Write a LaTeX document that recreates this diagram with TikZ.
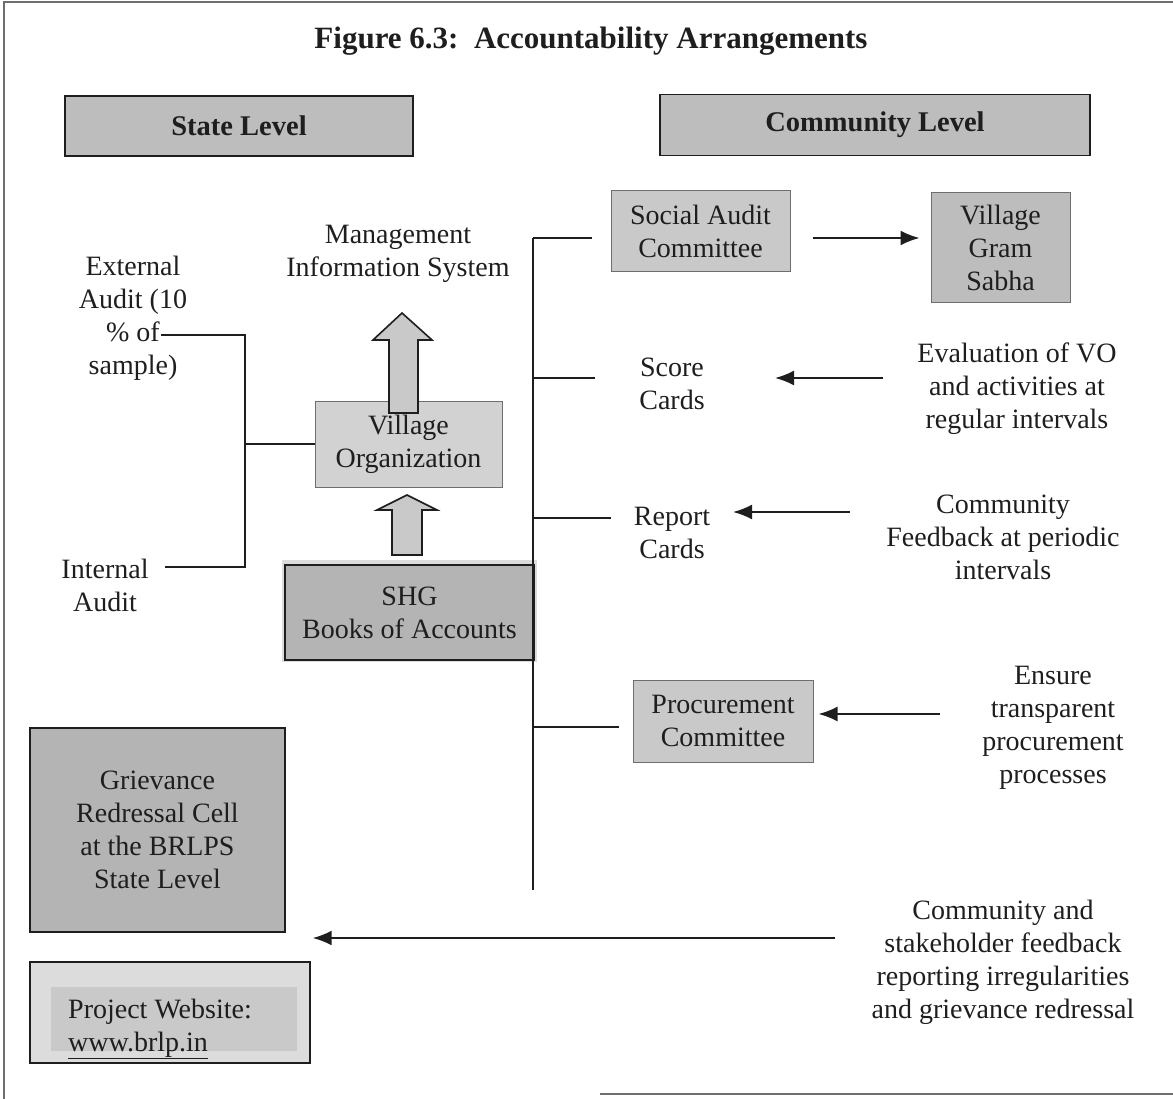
\documentclass[tikz,border=0pt]{standalone}
\usepackage{fontspec}
\setmainfont{Liberation Serif}
\usetikzlibrary{arrows.meta}
\definecolor{ink}{HTML}{1E1E1E}
\definecolor{hdrfill}{HTML}{BDBDBD}
\definecolor{boxfill}{HTML}{C9C9C9}
\definecolor{lightfill}{HTML}{D2D2D2}
\definecolor{darkfill}{HTML}{B4B4B4}
\definecolor{halo}{HTML}{DCDCDC}
\definecolor{edge}{HTML}{6E6E6E}
\tikzset{
  x=1pt, y=1pt,
  body/.style={font=\fontsize{28}{33}\selectfont, text=ink, align=center, inner sep=0pt},
  header/.style={draw=ink, line width=1.6pt, fill=hdrfill, font=\bfseries\fontsize{28.5}{33}\selectfont, text=ink},
  graybox/.style={body, draw=edge, line width=1pt, fill=boxfill},
  wire/.style={draw=ink, line width=1.6pt},
  arr/.style={draw=ink, line width=2pt, -{Latex[length=19pt,width=15pt]}},
  blockarrow/.style={draw=ink, line width=1.6pt, fill=boxfill, line join=miter},
}
\begin{document}
\begin{tikzpicture}
\useasboundingbox (0,0) rectangle (1173,-1099);
% page frame
\draw[edge, line width=1.2pt] (1173,-2) -- (4,-2) -- (4,-1099);
\draw[edge, line width=1.2pt] (600,-1094) -- (1173,-1094);

% title and level headers
\node[font=\bfseries\fontsize{31}{35}\selectfont, text=ink] (title) at (591,-41) {Figure 6.3:\ \ Accountability Arrangements};
\node[header, minimum width=348pt, minimum height=60pt] (state) at (239,-126) {State Level};
\node[header, minimum width=430pt, minimum height=61pt] (community) at (875,-125) {Community Level};

% state level side
\node[body] (mis) at (398,-254) {Management\\Information System};
\node[body] (ext) at (133,-318) {External\\Audit (10\\\%\ of\\sample)};
\node[body] (int) at (105,-585) {Internal\\Audit};
\node[graybox, fill=lightfill, minimum width=187pt, minimum height=86pt] (vo) at (408.5,-444) {Village\\Organization};
\node[fill=halo, minimum width=255pt, minimum height=102pt] (shghalo) at (409.5,-611) {};
\node[body, draw=ink, line width=1.6pt, fill=darkfill, minimum width=249pt, minimum height=95pt] (shg) at (409.5,-612.5) {SHG\\Books of Accounts};

% block arrows SHG -> VO -> MIS
\draw[blockarrow] (389,-413) -- (389,-340) -- (373,-340) -- (402,-313) -- (432,-340) -- (418,-340) -- (418,-413) -- cycle;
\draw[blockarrow] (392,-555) -- (392,-510) -- (377,-510) -- (407,-495) -- (437,-510) -- (422,-510) -- (422,-555) -- cycle;

% audit bracket
\coordinate (extEnd) at (161,-335);
\coordinate (intEnd) at (165,-567);
\coordinate (brTop) at (245,-335);
\coordinate (brBot) at (245,-567);
\coordinate (brMid) at (245,-444);
\draw[wire] (extEnd) -- (brTop) -- (brBot) -- (intEnd);
\draw[wire] (brMid) -- (vo.west |- brMid);

\node[body, draw=ink, line width=1.4pt, fill=darkfill, minimum width=255pt, minimum height=204pt] (grc) at (157.5,-830) {Grievance\\Redressal Cell\\at the BRLPS\\State Level};
\node[draw=ink, line width=1.4pt, fill=halo, minimum width=280pt, minimum height=101pt] (webout) at (170,-1012.5) {};
\node[fill=boxfill, minimum width=246pt, minimum height=64pt] (webin) at (174,-1019) {};
\node[body, align=left] (web) at (160,-1029) {Project Website:\\\underline{www.brlp.in}};

% community level side
\coordinate (spTop) at (533,-238);
\coordinate (spBot) at (533,-890);
\draw[wire] (spTop) -- (spBot);

\node[graybox, minimum width=179pt, minimum height=81pt] (sac) at (700.5,-231.5) {Social Audit\\Committee};
\node[graybox, fill=hdrfill, minimum width=139pt, minimum height=110pt] (vgs) at (1000.5,-248) {Village\\Gram\\Sabha};
\node[body] (score) at (672,-384) {Score\\Cards};
\node[body] (report) at (672,-533) {Report\\Cards};
\node[graybox, minimum width=180pt, minimum height=82pt] (proc) at (723,-721) {Procurement\\Committee};

\node[body] (eval) at (1017,-389) {Evaluation of VO\\and activities at\\regular intervals};
\node[body] (feed) at (1003,-537) {Community\\Feedback at periodic\\intervals};
\node[body] (ensure) at (1053,-728) {Ensure\\transparent\\procurement\\processes};
\node[body] (stake) at (1003,-962) {Community and\\stakeholder feedback\\reporting irregularities\\and grievance redressal};

% branches off the spine
\coordinate (bSac) at (533,-238);
\coordinate (bScore) at (533,-378);
\coordinate (bReport) at (533,-518);
\coordinate (bProc) at (533,-727);
\draw[wire] (bSac) -- ++(59,0);
\draw[wire] (bScore) -- ++(62,0);
\draw[wire] (bReport) -- ++(78,0);
\draw[wire] (bProc) -- ++(86,0);

% arrows
\draw[arr] ([xshift=22pt,yshift=-6.5pt]sac.east) -- ([xshift=-11pt,yshift=10pt]vgs.west);
\coordinate (evalTail) at (883,-378);
\coordinate (scoreTip) at (775,-378);
\draw[arr] (evalTail) -- (scoreTip);
\coordinate (feedTail) at (850,-512);
\coordinate (reportTip) at (733,-512);
\draw[arr] (feedTail) -- (reportTip);
\coordinate (ensureTail) at (940,-714);
\draw[arr] (ensureTail) -- ([xshift=5pt,yshift=7pt]proc.east);
\coordinate (stakeTail) at (835,-938);
\draw[arr] (stakeTail) -- ([xshift=27pt]grc.east |- stakeTail);
\end{tikzpicture}
\end{document}
